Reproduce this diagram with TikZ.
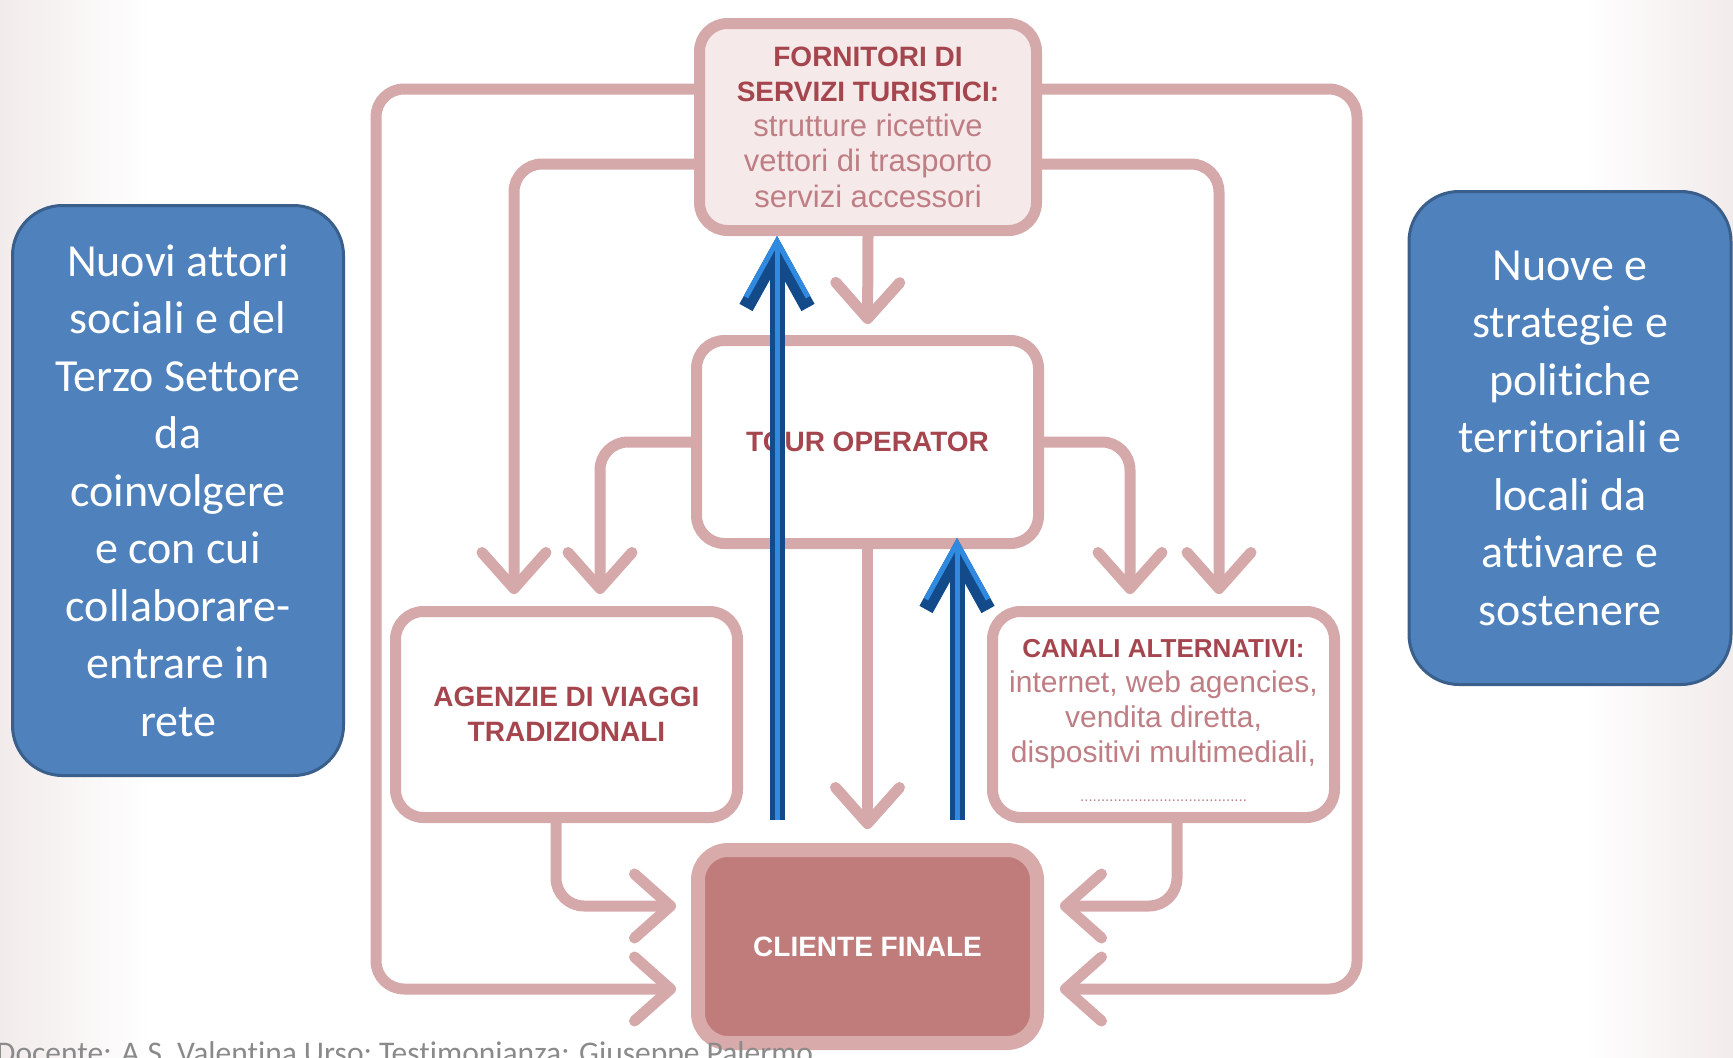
\documentclass[tikz,border=0pt]{standalone}
\usepackage{fontspec}
\setmainfont{Liberation Sans}
\newfontfamily\calfont[Ligatures=NoCommon]{Carlito}
\usetikzlibrary{arrows.meta,calc}
\definecolor{pinkline}{HTML}{D5A8AA}
\definecolor{pinkfill}{HTML}{F5E9E9}
\definecolor{darkred}{HTML}{A5464E}
\definecolor{lightred}{HTML}{BE7E84}
\definecolor{clfill}{HTML}{C07B7B}
\definecolor{clborder}{HTML}{D9AAAA}
\definecolor{bluefill}{HTML}{4F81BD}
\definecolor{blueborder}{HTML}{3A5F8B}
\definecolor{arrdark}{HTML}{124A8A}
\definecolor{arrlight}{HTML}{2F8AE0}
\definecolor{footgray}{HTML}{8A8A8A}
\definecolor{bgtex}{HTML}{F2EBEB}
\pgfdeclarelayer{bg}
\pgfsetlayers{bg,main}
\begin{document}
\begin{tikzpicture}[x=1pt,y=-1pt,
  box/.style={draw=pinkline, fill=white, line width=11pt, rounded corners=28pt,
    minimum width=342pt, minimum height=206pt, align=center, inner sep=0pt},
  bt/.style={font=\bfseries\fontsize{28}{35}\selectfont, text=darkred},
  conn/.style={draw=pinkline, line width=11pt, rounded corners=28pt,
    -{Straight Barb[length=36pt,width=64pt,round]}},
  bluebox/.style={fill=bluefill, draw=blueborder, line width=3pt, rounded corners=50pt,
    align=center, text=white, inner sep=0pt, font=\calfont\fontsize{46}{57.5}\selectfont},
  barrowA/.style={line width=15pt, draw=arrdark, -{Straight Barb[length=56pt,width=62pt]}},
  barrowB/.style={line width=5pt, draw=arrlight, -{Straight Barb[length=56pt,width=62pt]}}
]
\useasboundingbox (0,0) rectangle (1733,1058);

% boxes
\node[box, fill=pinkfill, minimum width=337pt, minimum height=207pt,
  font=\fontsize{28}{35.3}\selectfont] (top) at (868,127)
  {{\bfseries\color{darkred}FORNITORI DI}\\
   {\bfseries\color{darkred}SERVIZI TURISTICI:}\\
   {\fontsize{31}{35}\selectfont\color{lightred}strutture ricettive}\\
   {\fontsize{31}{35}\selectfont\color{lightred}vettori di trasporto}\\
   {\fontsize{31}{35}\selectfont\color{lightred}servizi accessori}};
\node[box, minimum height=203pt, bt] (to) at (867.5,442) {TOUR OPERATOR};
\node[box, bt] (ag) at (566.5,714.5) {AGENZIE DI VIAGGI\\TRADIZIONALI};
\node[box] (ca) at (1163.5,714.5) {};
\node[align=center, inner sep=0pt, font=\fontsize{30}{35}\selectfont] (catext) at ([yshift=-5.5pt]ca.center)
  {{\bfseries\fontsize{26}{35}\selectfont\color{darkred}CANALI ALTERNATIVI:}\\
   {\color{lightred}internet, web agencies,}\\
   {\color{lightred}vendita diretta,}\\
   {\color{lightred}dispositivi multimediali,}\\[4pt]
   {\fontsize{15}{35}\selectfont\color{lightred}........................................}};
\node[draw=clborder, fill=clfill, line width=14pt, rounded corners=30pt,
  minimum width=339pt, minimum height=193pt, inner sep=0pt,
  font=\bfseries\fontsize{28}{35}\selectfont, text=white] (cl) at (867.5,946.5) {CLIENTE FINALE};

\coordinate (cL) at (376,989);
\coordinate (cR) at (1357,989);

\begin{pgfonlayer}{bg}
  \shade[left color=bgtex, right color=white] (0,0) rectangle (150,1058);
  \shade[left color=white, right color=bgtex] (1583,0) rectangle (1733,1058);
  % left side
  \draw[conn, shorten >=15pt] ([yshift=38pt]top.west) -| (cL) -- ([yshift=-42.5pt]cl.west);
  \draw[conn, shorten >=12pt] ([yshift=-37pt]top.west) -| ([xshift=-52.5pt]ag.north);
  \draw[conn, shorten >=12pt] (to.west) -| ([xshift=33.5pt]ag.north);
  \draw[conn, shorten >=15pt] ([xshift=-10.5pt]ag.south) |- ([yshift=40.5pt]cl.west);
  % right side
  \draw[conn, shorten >=16pt] ([yshift=38pt]top.east) -| (cR) -- ([yshift=-42.5pt]cl.east);
  \draw[conn, shorten >=12pt] ([yshift=-37pt]top.east) -| ([xshift=55.5pt]ca.north);
  \draw[conn, shorten >=12pt] (to.east) -| ([xshift=-33.5pt]ca.north);
  \draw[conn, shorten >=16pt] ([xshift=13.5pt]ca.south) |- ([yshift=40.5pt]cl.east);
  % centre
  \draw[conn, shorten >=11pt] (top.south) -- (to.north);
  \draw[conn, shorten >=14pt] (to.south) -- (cl.north);
\end{pgfonlayer}

% blue arrows
\coordinate (b1) at (777,820);
\coordinate (b2) at (957,820);
\draw[barrowA] (b1) -- (b1 |- top.south);
\draw[barrowB] (b1) -- (b1 |- top.south);
\draw[barrowA, shorten >=-11pt] (b2) -- (b2 |- to.south);
\draw[barrowB, shorten >=-11pt] (b2) -- (b2 |- to.south);

% blue side boxes
\node[bluebox, minimum width=331pt, minimum height=570pt] (lb) at (178,490.5)
  {Nuovi attori\\sociali e del\\Terzo Settore\\da\\coinvolgere\\e con cui\\collaborare-\\entrare in\\rete};
\node[bluebox, minimum width=322pt, minimum height=493pt] (rb) at (1570,438)
  {Nuove e\\strategie e\\politiche\\territoriali e\\locali da\\attivare e\\sostenere};

% footer
\node[anchor=base west, inner sep=0pt, text=footgray,
  font=\calfont\fontsize{31.5}{38}\selectfont] (foot) at (-4,1063)
  {Docente: A.S. Valentina Urso; Testimonianza: Giuseppe Palermo};
\end{tikzpicture}
\end{document}
